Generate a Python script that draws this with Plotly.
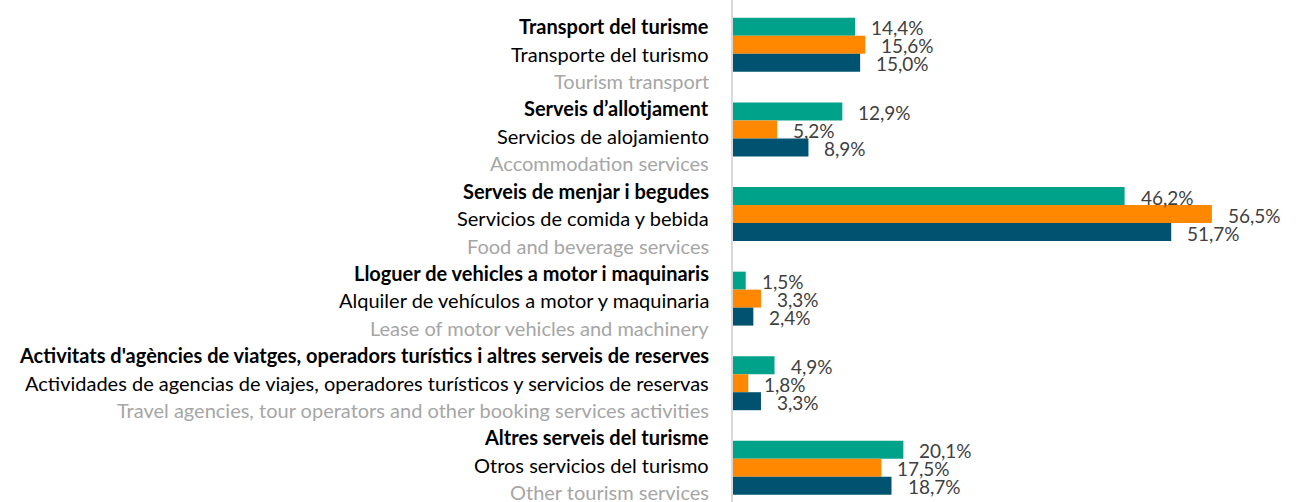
import plotly.graph_objects as go

cat_ca = ["Transport del turisme", "Serveis d’allotjament", "Serveis de menjar i begudes",
          "Lloguer de vehicles a motor i maquinaris",
          "Activitats d'agències de viatges, operadors turístics i altres serveis de reserves",
          "Altres serveis del turisme"]
cat_es = ["Transporte del turismo", "Servicios de alojamiento", "Servicios de comida y bebida",
          "Alquiler de vehículos a motor y maquinaria",
          "Actividades de agencias de viajes, operadores turísticos y servicios de reservas",
          "Otros servicios del turismo"]
cat_en = ["Tourism transport", "Accommodation services", "Food and beverage services",
          "Lease of motor vehicles and machinery",
          "Travel agencies, tour operators and other booking services activities",
          "Other tourism services"]
series_names = ["Sèrie 1", "Sèrie 2", "Sèrie 3"]
s1 = [14.4, 12.9, 46.2, 1.5, 4.9, 20.1]
s2 = [15.6, 5.2, 56.5, 3.3, 1.8, 17.5]
s3 = [15.0, 8.9, 51.7, 2.4, 3.3, 18.7]
series = [s1, s2, s3]
colors = ["#00A389", "#FF8800", "#005370"]

FONT = "Lato"
ypos = list(range(len(cat_ca)))

fig = go.Figure()
for name, vals, col in zip(series_names, series, colors):
    fig.add_trace(go.Bar(
        y=ypos, x=vals, orientation="h", name=name,
        marker=dict(color=col, line=dict(width=0)),
        hoverinfo="x+name",
    ))

annotations = []
# category labels (three languages)
for i in ypos:
    base = i * 0.972 - 0.22
    for j, (txt, col, bold) in enumerate([(cat_ca[i], "#000000", True),
                                          (cat_es[i], "#000000", False),
                                          (cat_en[i], "#A6A6A6", False)]):
        annotations.append(dict(
            xref="paper", yref="y", x=0, y=base + j * 0.324,
            text=f"<b>{txt}</b>" if bold else txt,
            xanchor="right", yanchor="middle", xshift=-22, showarrow=False,
            font=dict(family=FONT, size=20, color=col),
        ))

# value labels
offsets = [-0.2128, 0.0, 0.2128]
for k, vals in enumerate(series):
    for i, v in enumerate(vals):
        annotations.append(dict(
            xref="x", yref="y", x=v, y=i + offsets[k],
            text=f"{v:.1f}".replace(".", ",") + "%",
            xanchor="left", yanchor="middle", xshift=14, yshift=-1, showarrow=False,
            font=dict(family=FONT, size=19, color="#404040"),
        ))

fig.update_layout(
    width=1306, height=502,
    margin=dict(l=733, r=0, t=0, b=0),
    plot_bgcolor="white", paper_bgcolor="white",
    barmode="group", bargap=0.362, bargroupgap=0,
    showlegend=False,
    annotations=annotations,
    font=dict(family=FONT),
    xaxis=dict(range=[0, 67.6], showgrid=False, zeroline=False, showticklabels=False,
               showline=False),
    yaxis=dict(range=[5.404, -0.53], showgrid=False, zeroline=False, showticklabels=False,
               showline=True, linecolor="#D9D9D9", linewidth=2),
)

fig.write_html("out.html", config={"displayModeBar": False},
               post_script="document.body.style.margin='0px';")
